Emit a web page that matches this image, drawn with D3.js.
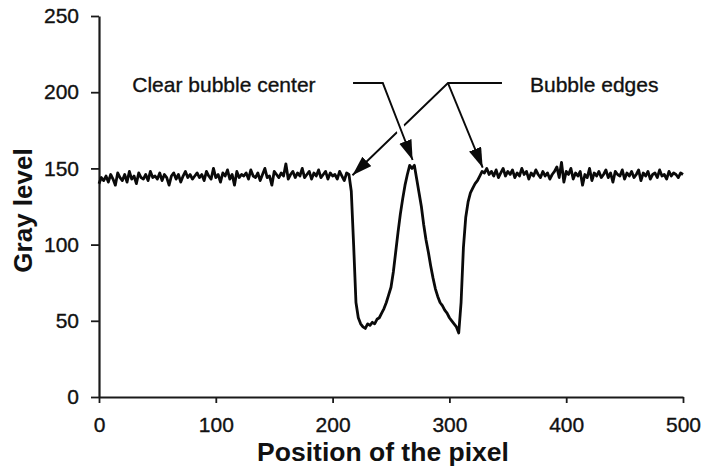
<!DOCTYPE html>
<html>
<head>
<meta charset="utf-8">
<script src="https://cdn.jsdelivr.net/npm/d3@7/dist/d3.min.js"></script>
<style>
  html, body { margin: 0; padding: 0; background: #fff; }
  svg { display: block; }
  text { font-family: "Liberation Sans", Arial, Helvetica, sans-serif; fill: #111; }
</style>
</head>
<body>
<svg id="chart" width="705" height="475"></svg>
<script>
// ---- data ----
const xStep = 2; // pixel position sampled every 2 units
const grayLevel = [
  // x = 0 .. 214 (baseline)
  140,144,142,145,141,146,143,139,147,144,
  142,146,141,148,143,145,140,147,144,143,
  146,142,148,144,145,143,147,142,146,144,
  139,145,147,143,146,141,145,148,144,146,
  143,145,147,144,146,142,148,145,143,150,
  144,146,141,147,145,149,143,146,139,148,
  144,146,145,147,143,149,145,144,147,142,
  146,150,144,145,139,148,146,144,147,145,
  153,143,146,148,144,147,145,150,144,146,
  148,143,147,145,149,144,146,148,143,147,
  145,146,143,148,145,142,147,146,
  // x = 216 .. 328 (bubble)
  135,100,62,52,48,46,45,48,47,49,
  48,51,52,55,58,62,67,72,82,95,
  108,120,130,139,146,152,150,152,143,134,
  125,113,103,95,86,78,71,66,62,60,
  57,55,52,50,48,46,42,62,98,118,
  128,134,137,140,142,145,148,
  // x = 330 .. 500 (baseline)
  147,150,146,148,145,149,144,147,150,145,
  148,146,149,144,147,145,150,146,148,143,
  147,145,149,146,144,148,145,147,143,146,
  148,151,144,154,141,148,146,150,143,147,
  145,148,139,146,144,150,142,147,145,148,
  144,146,149,144,147,141,148,146,145,149,
  143,147,145,148,144,146,149,142,147,145,
  148,143,146,147,144,149,145,146,143,148,
  145,147,146,144,147,146
];
const xTicks = [0, 100, 200, 300, 400, 500];
const yTicks = [0, 50, 100, 150, 200, 250];
const xTitle = "Position of the pixel";
const yTitle = "Gray level";

// annotation labels (data coordinates) and leader lines (data coordinates)
const labels = [
  { text: "Clear bubble center", x: 28.5, y: 200 },
  { text: "Bubble edges", x: 369, y: 200 }
];
const edgeLeaders = [
  [[345, 206], [298.8, 206], [217, 145.5]],
  [[298.8, 206], [328.5, 150.5]]
];
const centerLeader = [[217.5, 206], [243, 206], [268.5, 155.5]];

// ---- drawing ----
const svg = d3.select("#chart");
const x = d3.scaleLinear().domain([0, 500]).range([99, 683]);
const y = d3.scaleLinear().domain([0, 250]).range([397, 16]);

const series = grayLevel.map((v, i) => [i * xStep, v]);

// axes
const gx = svg.append("g").attr("transform", `translate(0,${y(0)})`)
  .call(d3.axisBottom(x).tickValues(xTicks).tickSize(6).tickSizeOuter(0).tickPadding(14).tickFormat(d3.format("d")));
const gy = svg.append("g").attr("transform", `translate(${x(0)},0)`)
  .call(d3.axisLeft(y).tickValues(yTicks).tickSize(8).tickSizeOuter(0).tickPadding(12).tickFormat(d3.format("d")));
[gx, gy].forEach(g => {
  g.select(".domain").attr("stroke", "#1a1a1a").attr("stroke-width", 2.2);
  g.selectAll(".tick line").attr("stroke", "#1a1a1a").attr("stroke-width", 1.8);
  g.selectAll(".tick text").attr("font-size", 21).attr("fill", "#111")
    .attr("stroke", "#111").attr("stroke-width", 0.35)
    .attr("font-family", "'Liberation Sans', Arial, sans-serif");
});

// axis titles
svg.append("text")
  .attr("x", (x(0) + x(500)) / 2 - 8).attr("y", 461)
  .attr("text-anchor", "middle").attr("font-size", 26.5).attr("font-weight", "bold")
  .text(xTitle);
svg.append("text")
  .attr("transform", `translate(32,${(y(0) + y(250)) / 2 + 4}) rotate(-90)`)
  .attr("text-anchor", "middle").attr("font-size", 26).attr("font-weight", "bold")
  .text(yTitle);

// data line
svg.append("path")
  .datum(series)
  .attr("fill", "none").attr("stroke", "#0a0a0a").attr("stroke-width", 2.8)
  .attr("stroke-linejoin", "round")
  .attr("d", d3.line().x(d => x(d[0])).y(d => y(d[1])));

// arrow marker
const defs = svg.append("defs");
defs.append("marker")
  .attr("id", "arrow").attr("markerUnits", "userSpaceOnUse")
  .attr("markerWidth", 22).attr("markerHeight", 14)
  .attr("refX", 20).attr("refY", 6.5).attr("orient", "auto")
  .append("path").attr("d", "M0,0 L20,6.5 L0,13 Z").attr("fill", "#0a0a0a");

const leader = d3.line().x(d => x(d[0])).y(d => y(d[1]));

// edge leaders (drawn under the center arrow)
svg.append("path").datum(edgeLeaders[0])
  .attr("fill", "none").attr("stroke", "#0a0a0a").attr("stroke-width", 1.9)
  .attr("marker-end", "url(#arrow)").attr("d", leader);
svg.append("path").datum(edgeLeaders[1])
  .attr("fill", "none").attr("stroke", "#0a0a0a").attr("stroke-width", 1.9)
  .attr("marker-end", "url(#arrow)").attr("d", leader);

// center leader with white halo
svg.append("path").datum(centerLeader.slice(1))
  .attr("fill", "none").attr("stroke", "#fff").attr("stroke-width", 9)
  .attr("d", leader);
svg.append("path").datum(centerLeader)
  .attr("fill", "none").attr("stroke", "#0a0a0a").attr("stroke-width", 1.9)
  .attr("marker-end", "url(#arrow)").attr("d", leader);

// labels
svg.selectAll("text.label").data(labels).enter().append("text")
  .attr("class", "label")
  .attr("x", d => x(d.x)).attr("y", d => y(d.y))
  .attr("font-size", 21)
  .attr("stroke", "#111").attr("stroke-width", 0.35)
  .text(d => d.text);
</script>
</body>
</html>
